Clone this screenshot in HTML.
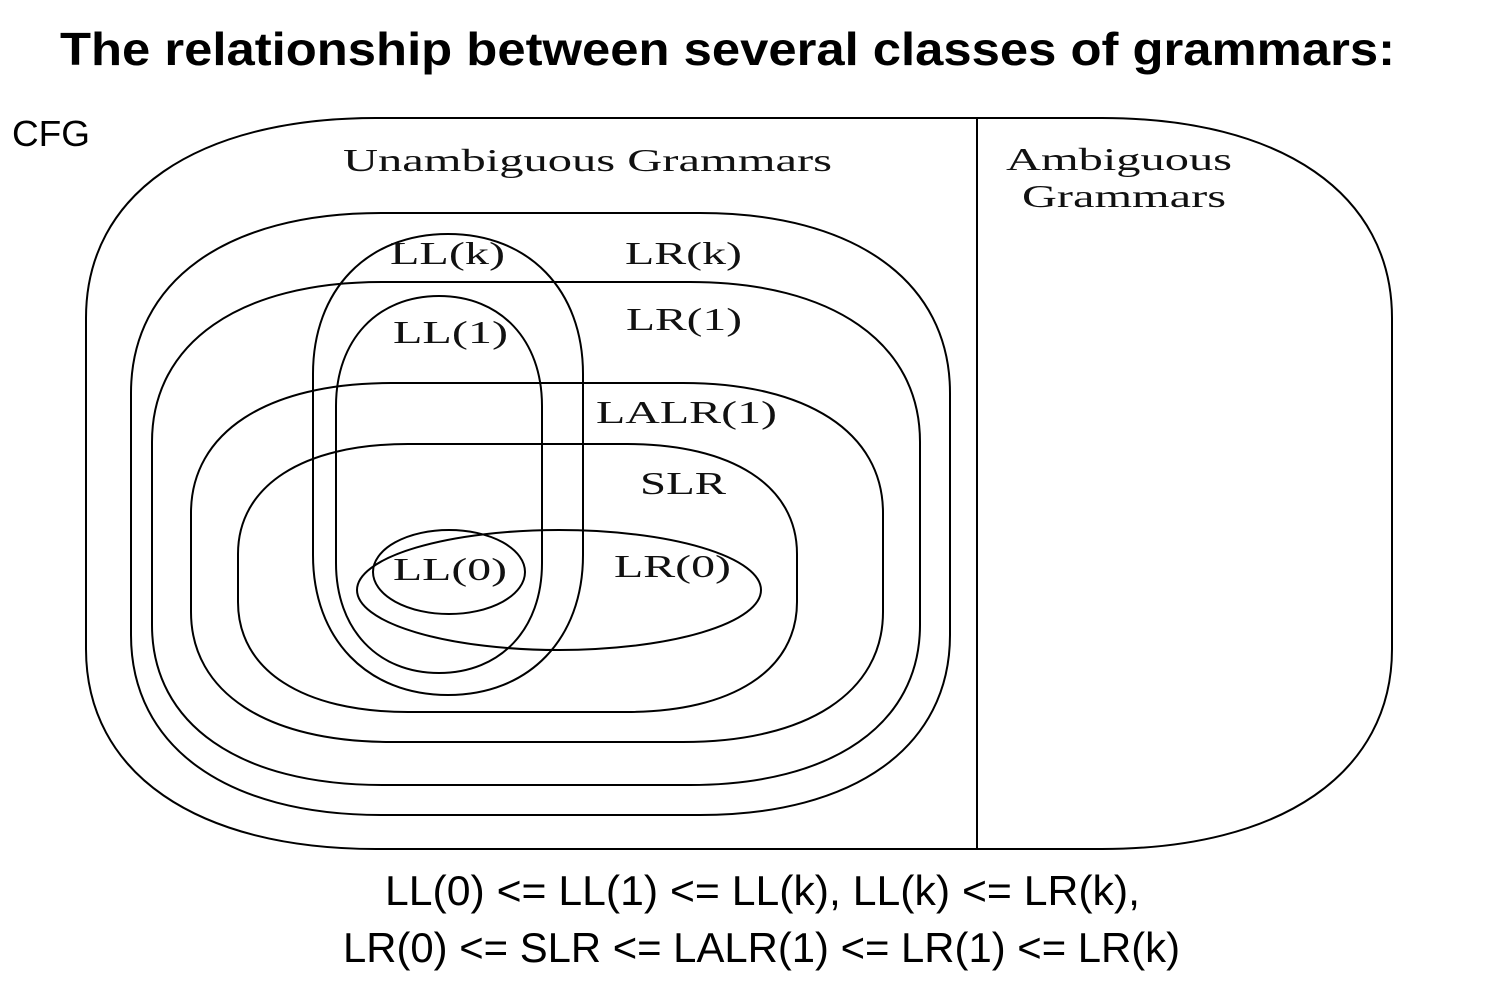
<!DOCTYPE html>
<html><head><meta charset="utf-8"><style>
body{margin:0;background:#fff;width:1492px;height:984px;overflow:hidden}
svg{position:absolute;left:0;top:0}
</style></head><body>
<svg id="s" width="1492" height="984" viewBox="0 0 1492 984" xmlns="http://www.w3.org/2000/svg">
<g font-family="Liberation Sans, sans-serif">
<text x="60" y="65" font-size="46" font-weight="bold" textLength="1335" lengthAdjust="spacingAndGlyphs">The relationship between several classes of grammars:</text>
<text x="12" y="146" font-size="36" textLength="78" lengthAdjust="spacingAndGlyphs">CFG</text>
<text x="385" y="905" font-size="42" textLength="755" lengthAdjust="spacingAndGlyphs">LL(0) &lt;= LL(1) &lt;= LL(k), LL(k) &lt;= LR(k),</text>
<text x="343" y="962" font-size="42" textLength="837" lengthAdjust="spacingAndGlyphs">LR(0) &lt;= SLR &lt;= LALR(1) &lt;= LR(1) &lt;= LR(k)</text>
</g>
<g id="shapes" fill="none" stroke="#000" stroke-width="2">
<line x1="977" y1="118" x2="977" y2="849"/>
<ellipse cx="559" cy="590" rx="202" ry="60"/>
<ellipse cx="449" cy="572" rx="76" ry="42"/>
</g>
<g font-family="Liberation Serif, serif" font-size="32" fill="#111" lengthAdjust="spacingAndGlyphs">
<text x="343" y="171" textLength="489" lengthAdjust="spacingAndGlyphs">Unambiguous Grammars</text>
<text x="1006" y="170" textLength="226" lengthAdjust="spacingAndGlyphs">Ambiguous</text>
<text x="1022" y="207" textLength="204" lengthAdjust="spacingAndGlyphs">Grammars</text>
<text x="390" y="264" textLength="115" lengthAdjust="spacingAndGlyphs">LL(k)</text>
<text x="625" y="264" textLength="117" lengthAdjust="spacingAndGlyphs">LR(k)</text>
<text x="393" y="343" textLength="115" lengthAdjust="spacingAndGlyphs">LL(1)</text>
<text x="626" y="330" textLength="116" lengthAdjust="spacingAndGlyphs">LR(1)</text>
<text x="596" y="423" textLength="181" lengthAdjust="spacingAndGlyphs">LALR(1)</text>
<text x="640" y="494" textLength="86" lengthAdjust="spacingAndGlyphs">SLR</text>
<text x="393" y="580" textLength="114" lengthAdjust="spacingAndGlyphs">LL(0)</text>
<text x="614" y="577" textLength="117" lengthAdjust="spacingAndGlyphs">LR(0)</text>
</g>
</svg>
<script>
(function(){
var g=document.getElementById('shapes');
function sq(x1,y1,x2,y2,rx,ry,k){
 var a=1-k;
 var d='M'+(x1+rx)+','+y1+' L'+(x2-rx)+','+y1+
 ' C'+(x2-rx*a)+','+y1+' '+x2+','+(y1+ry*a)+' '+x2+','+(y1+ry)+
 ' L'+x2+','+(y2-ry)+
 ' C'+x2+','+(y2-ry*a)+' '+(x2-rx*a)+','+y2+' '+(x2-rx)+','+y2+
 ' L'+(x1+rx)+','+y2+
 ' C'+(x1+rx*a)+','+y2+' '+x1+','+(y2-ry*a)+' '+x1+','+(y2-ry)+
 ' L'+x1+','+(y1+ry)+
 ' C'+x1+','+(y1+ry*a)+' '+(x1+rx*a)+','+y1+' '+(x1+rx)+','+y1+' Z';
 var p=document.createElementNS('http://www.w3.org/2000/svg','path');
 p.setAttribute('d',d);g.appendChild(p);
}
sq(86,118,1392,849,290,200,0.62);
sq(131,213,950,815,250,180,0.62);
sq(152,282,920,785,230,160,0.62);
sq(191,383,883,742,200,130,0.62);
sq(238,444,797,712,170,110,0.62);
sq(313,234,583,695,135,140,0.6);
sq(336,296,542,673,103,110,0.6);
})();
</script>
</body></html>
